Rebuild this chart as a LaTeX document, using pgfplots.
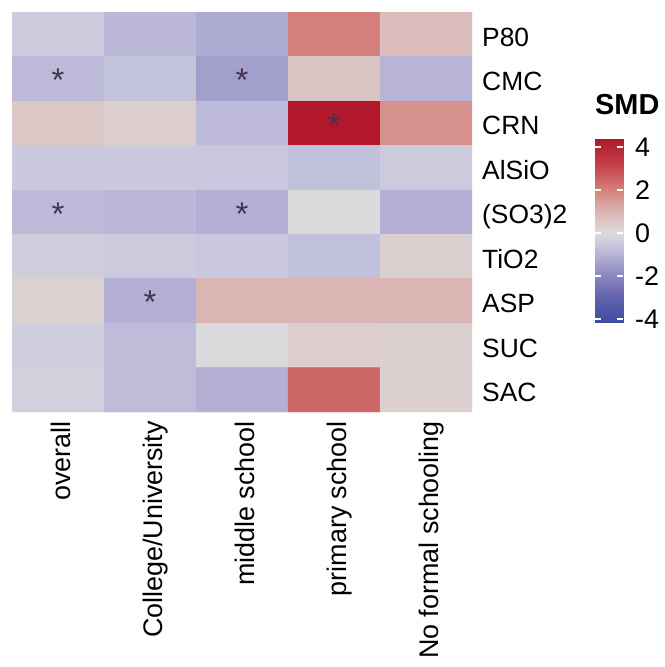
\documentclass[border=0pt]{standalone}
\usepackage{fontspec}
\setmainfont{Liberation Sans}
\usepackage{pgfplots}
\pgfplotsset{compat=1.18}
\definecolor{starc}{RGB}{72,50,82}
\pgfplotsset{colormap={smd}{rgb255(0pt)=(59,76,160); rgb255(119pt)=(98,100,172); rgb255(219pt)=(139,133,192); rgb255(319pt)=(183,180,215); rgb255(369pt)=(202,201,222); rgb255(419pt)=(220,219,219); rgb255(519pt)=(218,180,178); rgb255(619pt)=(213,130,124); rgb255(719pt)=(197,72,78); rgb255(856pt)=(178,24,43)}}
\begin{document}
\begin{tikzpicture}
\useasboundingbox (-12bp,-255bp) rectangle (653bp,412bp);
\begin{axis}[
  at={(0,0)}, anchor=south west,
  scale only axis, width=460bp, height=400bp,
  xmin=-0.5, xmax=4.5, ymin=-0.5, ymax=8.5, y dir=reverse,
  axis line style={draw=none}, tick style={draw=none},
  xtick={0,1,2,3,4},
  xticklabels={overall,College/University,middle school,primary school,No formal schooling},
  ytick={0,1,2,3,4,5,6,7,8},
  yticklabels={P80,CMC,CRN,AlSiO,(SO3)2,TiO2,ASP,SUC,SAC},
  yticklabel pos=right,
  xticklabel shift=9bp, yticklabel shift=10bp,
  xticklabel style={xshift=12bp, font=\fontsize{27}{30}\selectfont, rotate=90, anchor=base east, inner sep=0pt},
  yticklabel style={font=\fontsize{26.5}{30}\selectfont, anchor=base west, inner sep=0pt, yshift=-11.8bp},
  point meta min=-4.19, point meta max=4.37,
]
\addplot[matrix plot*, mesh/cols=5, point meta=explicit] table[meta=c] {
x y c
0 0 -0.45
1 0 -0.9
2 0 -1.2
3 0 2.05
4 0 0.77
0 1 -0.85
1 1 -0.65
2 1 -1.45
3 1 0.56
4 1 -1.0
0 2 0.5
1 2 0.33
2 2 -0.85
3 2 4.37
4 2 1.7
0 3 -0.5
1 3 -0.5
2 3 -0.52
3 3 -0.7
4 3 -0.45
0 4 -0.85
1 4 -0.9
2 4 -1.1
3 4 -0.05
4 4 -1.1
0 5 -0.35
1 5 -0.45
2 5 -0.55
3 5 -0.7
4 5 0.3
0 6 0.25
1 6 -1.1
2 6 0.97
3 6 0.97
4 6 0.97
0 7 -0.35
1 7 -0.8
2 7 -0.05
3 7 0.33
4 7 0.3
0 8 -0.3
1 8 -0.8
2 8 -1.1
3 8 2.45
4 8 0.3
};
\addplot[draw=none, mark=none, nodes near coords={*},
  every node near coord/.append style={anchor=base, inner sep=0pt, yshift=-13bp, text=starc, font=\fontsize{33}{33}\selectfont}]
  coordinates {(0,1) (2,1) (3,2) (0,4) (2,4) (1,6)};
\end{axis}
\begin{axis}[
  at={(583bp,89bp)}, anchor=south west,
  scale only axis, width=28bp, height=184bp,
  xmin=0, xmax=1, ymin=-4.19, ymax=4.37,
  point meta min=-4.19, point meta max=4.37,
  axis line style={draw=none},
  xtick=\empty,
  ytick={-4,-2,0,2,4},
  ytick pos=both, yticklabel pos=right,
  tick align=inside, major tick length=6bp,
  ytick style={draw=white, line width=1.2bp},
  yticklabel shift=12bp,
  yticklabel style={font=\fontsize{27}{30}\selectfont, inner sep=0pt, anchor=west},
  /pgf/number format/assume math mode=true,
  title={\bfseries SMD},
  title style={at={(0,1)}, anchor=base west, inner sep=0pt, yshift=19bp, font=\fontsize{29}{30}\selectfont},
  axis on top,
]
\addplot[surf, shader=interp, mesh/cols=2, point meta=\thisrow{y}] table {
x y
0 -4.19
1 -4.19
0 -3
1 -3
0 -2
1 -2
0 -1
1 -1
0 -0.5
1 -0.5
0 0
1 0
0 1
1 1
0 2
1 2
0 3
1 3
0 4.37
1 4.37
};
\end{axis}
\end{tikzpicture}
\end{document}
